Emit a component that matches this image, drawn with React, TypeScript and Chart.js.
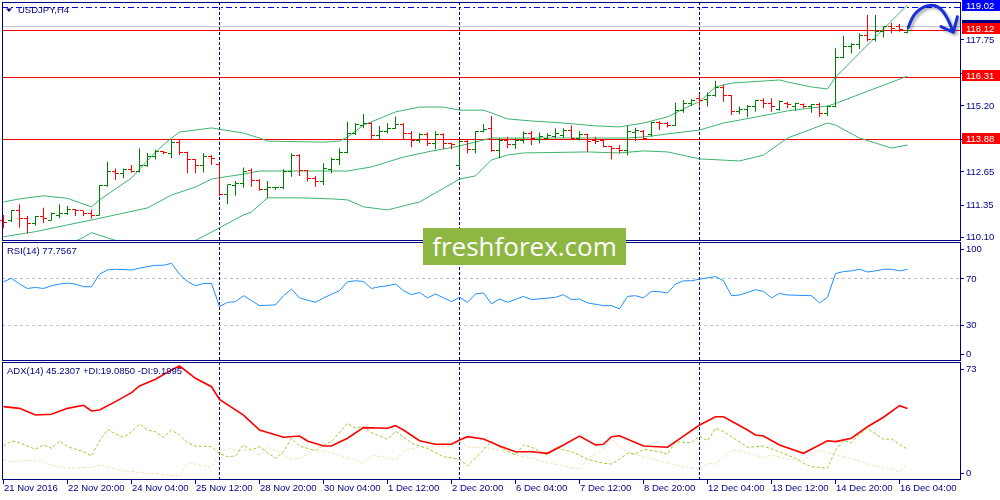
import { useEffect, useRef } from "react";
import { Chart, registerables } from "chart.js";

Chart.register(...registerables);

// ---------------- data ----------------
const SYMBOL_TITLE = "USDJPY,H4";
const RSI_TITLE = "RSI(14) 77.7567";
const ADX_TITLE = "ADX(14) 45.2307 +DI:19.0850 -DI:9.1995";
const WATERMARK = "freshforex.com";

const TIME_LABELS = [
  "21 Nov 2016", "22 Nov 20:00", "24 Nov 04:00", "25 Nov 12:00", "28 Nov 20:00",
  "30 Nov 04:00", "1 Dec 12:00", "2 Dec 20:00", "6 Dec 04:00", "7 Dec 12:00",
  "8 Dec 20:00", "12 Dec 04:00", "13 Dec 12:00", "14 Dec 20:00", "16 Dec 04:00",
];
const TIME_LABEL_BARS = [0, 8, 16, 24, 32, 40, 48, 56, 64, 72, 80, 88, 96, 104, 112];
const WEEK_START_BARS = [27, 57, 87];

const OPEN = [
  110.77, 110.77, 111.13, 110.84, 110.62, 110.90, 110.77, 110.96, 111.03, 111.16,
  111.12, 111.03, 110.96, 112.09, 112.65, 112.58, 112.71, 112.65, 112.88, 113.25,
  113.42, 113.36, 113.77, 113.39, 113.10, 112.90, 113.23, 112.93, 111.74, 112.09,
  112.19, 112.68, 112.32, 111.96, 112.02, 112.04, 112.65, 113.29, 112.68, 112.39,
  112.28, 112.74, 113.10, 113.38, 114.13, 114.42, 114.52, 114.03, 114.20, 114.31,
  114.49, 114.13, 113.85, 114.09, 113.74, 114.09, 113.72, 112.90, 113.81, 113.49,
  114.20, 114.33, 113.45, 113.87, 113.70, 113.87, 114.13, 113.91, 113.94, 114.00,
  114.03, 114.26, 113.94, 114.07, 113.85, 113.85, 113.61, 113.55, 113.45, 114.16,
  114.22, 114.07, 114.56, 114.52, 114.45, 115.00, 115.29, 115.49, 115.46, 115.59,
  115.92, 115.58, 114.97, 115.04, 115.17, 115.39, 115.29, 115.06, 115.29, 115.17,
  115.26, 115.17, 115.23, 114.91, 115.17, 117.08, 117.49, 117.56, 117.94, 117.75,
  118.07, 118.29, 118.27, 118.05,
];
const HIGH = [
  110.96, 111.16, 111.38, 110.93, 110.93, 111.25, 111.06, 111.38, 111.31, 111.20,
  111.13, 111.18, 112.13, 113.03, 112.77, 112.77, 112.90, 113.55, 113.36, 113.49,
  113.45, 113.90, 113.87, 113.42, 113.14, 113.36, 113.29, 112.97, 112.15, 112.28,
  112.81, 112.77, 112.35, 112.28, 112.06, 112.74, 113.36, 113.32, 112.71, 112.48,
  112.97, 113.19, 113.55, 114.58, 114.52, 114.88, 114.55, 114.42, 114.52, 114.78,
  114.52, 114.22, 114.13, 114.16, 114.20, 114.13, 113.77, 113.90, 113.87, 114.22,
  114.49, 114.80, 113.94, 114.00, 113.94, 114.20, 114.22, 114.16, 114.13, 114.33,
  114.33, 114.43, 114.20, 114.11, 114.00, 113.87, 113.64, 113.68, 114.42, 114.35,
  114.26, 114.58, 114.61, 114.58, 115.32, 115.42, 115.45, 115.64, 115.71, 116.17,
  116.01, 115.62, 115.17, 115.23, 115.42, 115.49, 115.49, 115.40, 115.36, 115.32,
  115.29, 115.27, 115.32, 115.20, 117.43, 117.91, 117.62, 118.01, 118.72, 118.72,
  118.29, 118.42, 118.37, 118.27,
];
const LOW = [
  110.45, 110.69, 110.47, 110.25, 110.56, 110.64, 110.75, 110.84, 110.96, 110.93,
  110.93, 110.82, 110.94, 112.06, 112.32, 112.39, 112.61, 112.61, 112.84, 113.12,
  113.33, 113.16, 113.29, 112.58, 112.58, 112.61, 112.90, 111.70, 111.38, 111.71,
  112.02, 112.06, 111.90, 111.61, 111.93, 111.96, 112.45, 112.48, 112.26, 112.06,
  112.13, 112.58, 112.90, 113.36, 114.07, 114.33, 113.90, 113.87, 114.13, 114.30,
  113.90, 113.59, 113.77, 113.64, 113.51, 113.52, 113.51, 112.84, 113.36, 113.36,
  114.16, 113.42, 113.16, 113.55, 113.52, 113.74, 113.68, 113.74, 113.87, 113.94,
  113.96, 113.87, 113.85, 113.42, 113.72, 113.59, 113.12, 113.36, 113.27, 113.81,
  113.87, 114.00, 114.26, 114.36, 114.42, 114.93, 115.19, 115.17, 115.17, 115.55,
  115.36, 114.84, 114.87, 114.75, 114.97, 115.10, 114.97, 115.01, 115.10, 115.01,
  115.10, 114.93, 114.78, 114.80, 115.14, 117.04, 117.23, 117.40, 117.69, 117.69,
  117.85, 118.01, 118.07, 118.01,
];
const CLOSE = [
  110.69, 111.13, 110.84, 110.62, 110.90, 110.84, 111.03, 111.03, 111.16, 111.12,
  111.03, 110.96, 112.09, 112.65, 112.58, 112.71, 112.65, 112.88, 113.25, 113.42,
  113.38, 113.77, 113.39, 113.10, 112.90, 113.23, 113.14, 111.74, 112.13, 112.19,
  112.65, 112.32, 111.96, 112.04, 112.05, 112.67, 113.29, 112.68, 112.39, 112.28,
  112.77, 113.10, 113.38, 114.13, 114.49, 114.52, 114.03, 114.20, 114.33, 114.49,
  114.13, 113.85, 114.09, 113.74, 114.09, 113.72, 113.70, 113.80, 113.49, 114.20,
  114.29, 113.45, 113.87, 113.68, 113.87, 114.13, 113.94, 114.00, 114.04, 114.13,
  114.26, 113.94, 114.07, 113.81, 113.81, 113.61, 113.55, 113.45, 114.20, 114.26,
  113.94, 114.56, 114.52, 114.45, 115.00, 115.29, 115.39, 115.42, 115.59, 115.92,
  115.58, 114.97, 115.06, 115.17, 115.39, 115.29, 115.17, 115.36, 115.23, 115.27,
  115.17, 115.23, 114.91, 115.17, 117.08, 117.49, 117.56, 117.94, 117.78, 118.07,
  118.27, 118.20, 118.16, 118.12,
];

// Bollinger Bands (bar index, price) read at the line's vertices
const BB_UPPER = [
  [0, 111.47], [2, 111.59], [5, 111.71], [8, 111.61], [11, 111.28], [12, 111.55],
  [16, 112.40], [19, 113.41], [21, 113.95], [22, 114.18], [26, 114.34], [30, 114.14],
  [32, 113.95], [33, 113.83], [40, 113.79], [42, 113.83], [43, 113.99], [45, 114.45],
  [49, 114.96], [52, 115.15], [55, 115.15], [57, 115.03], [60, 115.03], [61, 114.92],
  [63, 114.69], [66, 114.61], [70, 114.53], [74, 114.42], [77, 114.38], [80, 114.53],
  [83, 114.77], [86, 115.23], [87, 115.35], [89, 115.93], [91, 116.08], [97, 116.20],
  [98, 116.12], [101, 115.93], [103, 115.85], [104, 116.31], [113, 119.11],
];
const BB_MIDDLE = [
  [0, 110.12], [4, 110.32], [8, 110.58], [11, 110.77], [14, 110.97], [18, 111.24],
  [21, 111.74], [24, 112.05], [26, 112.36], [30, 112.55], [32, 112.67], [43, 112.67],
  [46, 112.83], [50, 113.21], [53, 113.41], [57, 113.64], [61, 113.95], [71, 113.95],
  [78, 113.95], [80, 113.99], [87, 114.26], [90, 114.53], [94, 114.76], [98, 115.00],
  [103, 115.19], [104, 115.29], [113, 116.35],
];
const BB_LOWER = [
  [0, 109.40], [8, 109.80], [10, 110.10], [11, 110.28], [14, 109.98], [18, 109.50],
  [24, 109.98], [26, 110.30], [30, 110.97], [31, 111.08], [33, 111.63], [37, 111.63],
  [41, 111.59], [43, 111.55], [45, 111.28], [48, 111.16], [52, 111.47], [54, 111.82],
  [57, 112.36], [59, 112.48], [61, 113.10], [63, 113.29], [65, 113.37], [73, 113.41],
  [77, 113.37], [80, 113.45], [83, 113.41], [87, 113.14], [92, 113.06], [95, 113.29],
  [98, 113.95], [100, 114.18], [103, 114.53], [104, 114.45], [107, 113.95], [111, 113.56],
  [113, 113.68],
];

const RSI = [
  [0, 67.1], [1, 70.2], [2, 65.2], [3, 61.4], [4, 62.3], [5, 61.4], [6, 63.7], [7, 65.2],
  [8, 66.0], [9, 65.2], [10, 62.9], [11, 62.9], [12, 73.7], [13, 77.3], [14, 77.9],
  [16, 77.3], [17, 78.8], [18, 80.1], [19, 81.3], [20, 81.3], [21, 83.0], [22, 73.7],
  [23, 67.4], [24, 63.7], [25, 65.7], [26, 65.7], [27, 45.9], [28, 49.5], [29, 50.1],
  [30, 55.2], [31, 51.0], [32, 46.7], [34, 47.3], [35, 55.2], [36, 60.9], [37, 53.3],
  [39, 49.5], [40, 53.3], [42, 59.5], [43, 67.1], [44, 68.0], [45, 67.4], [46, 61.4],
  [47, 62.9], [48, 63.7], [49, 65.2], [50, 59.5], [51, 56.1], [52, 58.0], [53, 53.3],
  [54, 56.7], [56, 50.1], [57, 53.8], [58, 49.5], [59, 56.7], [60, 57.5], [61, 48.2],
  [62, 52.4], [63, 49.5], [65, 54.6], [66, 51.8], [69, 53.8], [70, 56.1], [71, 51.8],
  [72, 52.4], [73, 49.0], [75, 46.7], [76, 46.7], [77, 43.9], [78, 54.6], [79, 55.2],
  [80, 53.3], [81, 58.9], [82, 58.6], [83, 57.5], [84, 65.2], [85, 68.0], [86, 68.0],
  [87, 69.4], [89, 71.6], [90, 68.0], [91, 55.2], [92, 55.8], [94, 60.3], [95, 58.9],
  [96, 53.3], [97, 57.2], [98, 55.8], [101, 55.2], [102, 49.0], [103, 53.8], [104, 74.2],
  [105, 75.9], [106, 76.5], [107, 77.9], [108, 75.6], [109, 76.5], [110, 77.9],
  [111, 77.9], [112, 76.5], [113, 77.76],
];

const ADX = [
  [0, 46.5], [2, 45.4], [4, 41.1], [6, 41.6], [8, 45.4], [10, 47.4], [11, 43.7],
  [12, 44.3], [14, 49.7], [16, 55.5], [17, 59.8], [19, 64.1], [21, 70.1], [22, 72.6],
  [24, 64.7], [26, 59.3], [27, 51.2], [30, 41.1], [32, 31.5], [35, 26.8], [37, 27.6],
  [38, 24.4], [40, 21.2], [41, 21.2], [43, 26.2], [45, 33.0], [48, 32.6], [49, 34.3],
  [50, 31.5], [52, 24.6], [54, 22.3], [56, 22.3], [57, 25.1], [58, 27.2], [60, 25.7],
  [62, 21.2], [64, 17.5], [66, 17.5], [68, 16.5], [70, 21.9], [72, 27.6], [74, 21.9],
  [75, 22.3], [76, 27.2], [77, 27.8], [80, 21.2], [83, 20.4], [85, 27.6], [87, 34.7],
  [88, 37.3], [89, 40.0], [90, 40.0], [93, 31.5], [94, 28.3], [95, 27.6], [97, 21.9],
  [100, 16.5], [103, 24.6], [104, 24.0], [106, 26.2], [108, 33.6], [110, 39.7],
  [112, 47.1], [113, 45.23],
];
const PLUS_DI = [
  [0, 21.2], [1, 24.4], [2, 23.3], [4, 19.1], [5, 21.9], [6, 19.7], [7, 24.4], [8, 20.8],
  [10, 17.5], [11, 14.8], [12, 24.4], [13, 31.9], [14, 28.9], [15, 26.8], [16, 30.4],
  [17, 35.2], [18, 31.5], [19, 30.4], [20, 26.8], [21, 31.5], [22, 28.3], [23, 23.3],
  [24, 21.2], [26, 20.8], [27, 16.5], [28, 14.3], [29, 14.8], [30, 21.9], [31, 18.6],
  [32, 20.8], [34, 13.3], [35, 17.5], [36, 26.2], [37, 21.2], [39, 18.2], [40, 21.9],
  [41, 24.0], [43, 35.8], [44, 32.6], [45, 33.6], [46, 29.8], [48, 25.5], [49, 30.8],
  [50, 27.2], [51, 22.9], [53, 19.7], [55, 14.3], [57, 12.7], [58, 8.4], [60, 18.6],
  [61, 24.4], [62, 20.5], [64, 15.4], [65, 21.9], [66, 20.4], [68, 15.4], [69, 20.1],
  [71, 17.5], [72, 15.4], [73, 12.7], [75, 10.1], [76, 9.6], [77, 12.7], [78, 16.5],
  [79, 16.1], [80, 19.1], [82, 17.5], [83, 15.9], [84, 24.0], [86, 23.3], [87, 27.6],
  [88, 24.6], [89, 32.6], [90, 30.4], [91, 27.2], [93, 20.4], [94, 20.8], [95, 21.2],
  [97, 17.5], [99, 13.3], [100, 10.1], [101, 7.9], [103, 6.9], [104, 18.6], [105, 24.6],
  [106, 23.3], [107, 28.9], [108, 32.6], [110, 25.5], [111, 25.7], [113, 19.09],
];
const MINUS_DI = [
  [0, 12.2], [1, 11.1], [4, 12.2], [6, 9.0], [8, 6.9], [11, 7.5], [12, 9.0], [15, 5.3],
  [18, 3.7], [22, 1.9], [23, 10.5], [26, 7.5], [27, 16.5], [28, 19.7], [29, 18.6],
  [31, 18.6], [32, 15.0], [33, 20.4], [35, 15.9], [36, 12.7], [37, 13.3], [39, 19.1],
  [42, 15.4], [45, 10.1], [46, 15.4], [48, 13.7], [49, 11.8], [50, 18.2], [52, 20.4],
  [56, 21.2], [57, 24.4], [58, 20.4], [60, 20.4], [62, 18.6], [64, 15.4], [66, 13.3],
  [68, 10.5], [70, 8.4], [72, 6.2], [73, 12.7], [75, 19.1], [76, 25.5], [77, 20.4],
  [79, 15.4], [80, 14.3], [82, 11.8], [84, 9.0], [87, 6.2], [88, 10.1], [89, 9.6],
  [91, 18.6], [92, 18.2], [95, 13.9], [96, 15.4], [98, 12.7], [100, 12.2], [102, 18.6],
  [104, 15.4], [106, 13.3], [108, 9.6], [110, 7.5], [112, 4.7], [113, 9.2],
];

const PRICE_TICKS = [117.75, 116.45, 115.2, 113.9, 112.65, 111.35, 110.1];
const RED_LEVELS = [118.12, 116.31, 113.88];
const BLUE_LEVEL = 119.02;
const ASK_PRICE = 118.26;
const RSI_TICKS = [100, 70, 30, 0];
const RSI_LEVELS = [70, 30];
const ADX_TICKS = [73, 0];

// hand-drawn arrow annotation, in (bar index, price)
const ARROW_PATH = [
  [113.1, 118.24], [113.53, 118.59], [114.15, 118.85], [114.98, 119.04], [116.03, 119.12],
  [116.85, 119.04], [117.48, 118.85], [118.1, 118.53], [118.53, 118.2], [118.73, 118.05],
];
const ARROW_WINGS = [[117.19, 118.27], [119.23, 118.65]];

// ---------------- view ranges & styles ----------------
const X_MIN = -0.1875;
const X_MAX = 119.6875;
const PRICE_MIN = 109.9562;
const PRICE_MAX = 119.2234;
const RSI_MIN = -0.858;
const RSI_MAX = 101.29;
const ADX_MIN = -0.643;
const ADX_MAX = 75.19;

const NAVY = "#000080";
const UP = "#008000";
const DOWN = "#FF0000";
const BAND = "#3CB371";
const LEVEL_RED = "#FF0000";
const LEVEL_BLUE = "#0000FF";
const ASK_GRAY = "#C8C8C8";
const RSI_BLUE = "#1E90FF";
const SILVER = "#C0C0C0";
const ADX_RED = "#FF0000";
const PDI_GREEN = "#9ACD32";
const MDI_TAN = "#F5DEB3";
const FONT = '9.5px "Liberation Sans", Arial, sans-serif';
const PAD = { left: 2, right: 39 };

function crisp(v: number) {
  return Math.round(v - 0.5) + 0.5;
}
function hLine(ctx: any, left: number, right: number, py: number, color: string, dash: number[], width = 1) {
  ctx.save();
  ctx.strokeStyle = color;
  ctx.lineWidth = width;
  ctx.setLineDash(dash);
  ctx.beginPath();
  const yy = crisp(py);
  ctx.moveTo(left, yy);
  ctx.lineTo(right, yy);
  ctx.stroke();
  ctx.restore();
}
function vLine(ctx: any, px: number, top: number, bottom: number, color: string, dash: number[]) {
  ctx.save();
  ctx.strokeStyle = color;
  ctx.lineWidth = 1;
  ctx.setLineDash(dash);
  ctx.beginPath();
  const xx = Math.floor(px) + 0.5;
  ctx.moveTo(xx, top);
  ctx.lineTo(xx, bottom);
  ctx.stroke();
  ctx.restore();
}
function frame(chart: any) {
  const { ctx, chartArea: a } = chart;
  ctx.save();
  ctx.strokeStyle = NAVY;
  ctx.lineWidth = 1;
  ctx.setLineDash([]);
  ctx.strokeRect(a.left + 0.5, a.top + 0.5, a.right - a.left - 1, a.bottom - a.top - 1);
  ctx.restore();
}
function axisLabel(ctx: any, a: any, py: number, text: string, color = NAVY, bg?: string) {
  ctx.save();
  let ty = py + 0.5;
  if (bg) {
    const top = Math.round(py) - 7;
    ctx.fillStyle = bg;
    ctx.fillRect(a.right + 1, top, 38, 11);
    ty = top + 6;
  } else {
    ctx.fillStyle = NAVY;
    ctx.fillRect(a.right, Math.round(py - 0.5), 3, 1);
  }
  ctx.fillStyle = color;
  ctx.font = FONT;
  ctx.textBaseline = "middle";
  ctx.textAlign = "left";
  ctx.fillText(text, a.right + 5, ty);
  ctx.restore();
}
function title(ctx: any, text: string, x: number, y: number) {
  ctx.save();
  ctx.fillStyle = NAVY;
  ctx.font = FONT;
  ctx.textBaseline = "middle";
  ctx.textAlign = "left";
  ctx.fillText(text, x, y);
  ctx.restore();
}
function separators(chart: any) {
  const { ctx, chartArea: a, scales } = chart;
  WEEK_START_BARS.forEach((b) => vLine(ctx, scales.x.getPixelForValue(b), a.top, a.bottom, NAVY, [3, 2]));
}

const pts = (arr: number[][]) => arr.map(([x, y]) => ({ x, y }));
const lineDs = (data: number[][], color: string, width = 1, dash: number[] = []) => ({
  type: "line" as const,
  data: pts(data),
  borderColor: color,
  borderWidth: width,
  borderDash: dash,
  pointRadius: 0,
  tension: 0,
  fill: false,
});
const baseOptions = (yMin: number, yMax: number, padTop: number, padBottom: number) => ({
  responsive: false,
  maintainAspectRatio: false,
  animation: false as const,
  devicePixelRatio: 1,
  events: [] as any[],
  layout: { padding: { left: PAD.left, right: PAD.right, top: padTop, bottom: padBottom } },
  plugins: { legend: { display: false }, tooltip: { enabled: false }, title: { display: false } },
  scales: {
    x: { type: "linear" as const, min: X_MIN, max: X_MAX, display: false, offset: false },
    y: { type: "linear" as const, min: yMin, max: yMax, display: false },
  },
});

const mainPlugin = {
  id: "mainDecor",
  beforeDatasetsDraw(chart: any) {
    const { ctx, chartArea: a, scales } = chart;
    const y = scales.y;
    hLine(ctx, a.left, a.right, y.getPixelForValue(ASK_PRICE), ASK_GRAY, []);
    RED_LEVELS.forEach((v) => hLine(ctx, a.left, a.right, y.getPixelForValue(v), LEVEL_RED, []));
    hLine(ctx, a.left, a.right, y.getPixelForValue(BLUE_LEVEL), LEVEL_BLUE, [6, 3, 2, 3]);
    separators(chart);
  },
  afterDatasetsDraw(chart: any) {
    const { ctx, chartArea: a, scales } = chart;
    const x = scales.x;
    const y = scales.y;
    ctx.save();
    // open / close ticks
    for (let i = 0; i < OPEN.length; i++) {
      const col = Math.floor(x.getPixelForValue(i));
      ctx.fillStyle = CLOSE[i] >= OPEN[i] ? UP : DOWN;
      ctx.fillRect(col - 3, Math.round(y.getPixelForValue(OPEN[i]) - 0.5), 3, 1);
      ctx.fillRect(col + 1, Math.round(y.getPixelForValue(CLOSE[i]) - 0.5), 3, 1);
    }
    ctx.restore();
    frame(chart);
    // price axis
    PRICE_TICKS.forEach((v) => axisLabel(ctx, a, y.getPixelForValue(v), v.toFixed(2)));
    axisLabel(ctx, a, y.getPixelForValue(ASK_PRICE), ASK_PRICE.toFixed(2), "#FFFFFF", NAVY);
    RED_LEVELS.forEach((v) => axisLabel(ctx, a, y.getPixelForValue(v), v.toFixed(2), "#FFFFFF", LEVEL_RED));
    axisLabel(ctx, a, y.getPixelForValue(BLUE_LEVEL), BLUE_LEVEL.toFixed(2), "#FFFFFF", LEVEL_BLUE);
    // arrow annotation
    const p = ARROW_PATH.map(([bx, pr]) => [x.getPixelForValue(bx), y.getPixelForValue(pr)]);
    const tip = p[p.length - 1];
    ctx.save();
    ctx.strokeStyle = "#1830D8";
    ctx.lineWidth = 3;
    ctx.lineCap = "round";
    ctx.lineJoin = "round";
    ctx.shadowColor = "rgba(0,0,0,0.35)";
    ctx.shadowBlur = 3;
    ctx.shadowOffsetX = 2;
    ctx.shadowOffsetY = 2;
    ctx.beginPath();
    ctx.moveTo(p[0][0], p[0][1]);
    for (let i = 1; i < p.length - 1; i++) {
      ctx.quadraticCurveTo(p[i][0], p[i][1], (p[i][0] + p[i + 1][0]) / 2, (p[i][1] + p[i + 1][1]) / 2);
    }
    ctx.lineTo(tip[0], tip[1]);
    ARROW_WINGS.forEach(([bx, pr]) => {
      ctx.moveTo(tip[0], tip[1]);
      ctx.lineTo(x.getPixelForValue(bx), y.getPixelForValue(pr));
    });
    ctx.stroke();
    ctx.restore();
    // title
    ctx.save();
    ctx.fillStyle = NAVY;
    ctx.beginPath();
    ctx.moveTo(a.left + 4, a.top + 6.5);
    ctx.lineTo(a.left + 10, a.top + 6.5);
    ctx.lineTo(a.left + 7, a.top + 10);
    ctx.closePath();
    ctx.fill();
    ctx.restore();
    title(ctx, SYMBOL_TITLE, a.left + 16, a.top + 8.7);
  },
};

function clampLabel(py: number, a: any) {
  return Math.min(Math.max(py, a.top + 7), a.bottom - 7);
}

const rsiPlugin = {
  id: "rsiDecor",
  beforeDatasetsDraw(chart: any) {
    const { ctx, chartArea: a, scales } = chart;
    RSI_LEVELS.forEach((v) => hLine(ctx, a.left, a.right, scales.y.getPixelForValue(v), SILVER, [3, 3]));
    separators(chart);
  },
  afterDatasetsDraw(chart: any) {
    const { ctx, chartArea: a, scales } = chart;
    frame(chart);
    RSI_TICKS.forEach((v) => axisLabel(ctx, a, clampLabel(scales.y.getPixelForValue(v), a), String(v)));
    title(ctx, RSI_TITLE, a.left + 5, a.top + 9);
  },
};

const adxPlugin = {
  id: "adxDecor",
  beforeDatasetsDraw(chart: any) {
    separators(chart);
  },
  afterDatasetsDraw(chart: any) {
    const { ctx, chartArea: a, scales } = chart;
    frame(chart);
    ADX_TICKS.forEach((v) => axisLabel(ctx, a, clampLabel(scales.y.getPixelForValue(v), a), String(v)));
    title(ctx, ADX_TITLE, a.left + 5, a.top + 9.5);
    ctx.save();
    ctx.fillStyle = NAVY;
    ctx.font = FONT;
    ctx.textAlign = "left";
    ctx.textBaseline = "middle";
    TIME_LABEL_BARS.forEach((b, k) => {
      const px = Math.floor(scales.x.getPixelForValue(b));
      ctx.fillRect(px, a.bottom, 1, 4);
      ctx.fillText(TIME_LABELS[k], px + 1, a.bottom + 8);
    });
    ctx.restore();
  },
};

export default function App() {
  const mainRef = useRef<HTMLCanvasElement>(null);
  const rsiRef = useRef<HTMLCanvasElement>(null);
  const adxRef = useRef<HTMLCanvasElement>(null);

  useEffect(() => {
    const charts: Chart[] = [];
    const barColors = CLOSE.map((c, i) => (c >= OPEN[i] ? UP : DOWN));

    charts.push(
      new Chart(mainRef.current as HTMLCanvasElement, {
        type: "line",
        data: {
          datasets: [
            {
              type: "bar",
              data: HIGH.map((h, i) => ({ x: i, y: [LOW[i], h] })) as any,
              backgroundColor: barColors,
              borderWidth: 0,
              barThickness: 1,
              inflateAmount: 0,
            } as any,
            lineDs(BB_UPPER, BAND),
            lineDs(BB_MIDDLE, BAND),
            lineDs(BB_LOWER, BAND),
          ],
        },
        options: baseOptions(PRICE_MIN, PRICE_MAX, 2, 0) as any,
        plugins: [mainPlugin],
      })
    );

    charts.push(
      new Chart(rsiRef.current as HTMLCanvasElement, {
        type: "line",
        data: { datasets: [lineDs(RSI, RSI_BLUE)] as any },
        options: baseOptions(RSI_MIN, RSI_MAX, 0, 0) as any,
        plugins: [rsiPlugin],
      })
    );

    charts.push(
      new Chart(adxRef.current as HTMLCanvasElement, {
        type: "line",
        data: {
          datasets: [
            lineDs(ADX, ADX_RED, 1.6),
            lineDs(PLUS_DI, PDI_GREEN, 1, [3, 2]),
            lineDs(MINUS_DI, MDI_TAN, 1, [3, 2]),
          ] as any,
        },
        options: baseOptions(ADX_MIN, ADX_MAX, 0, 20) as any,
        plugins: [adxPlugin],
      })
    );

    return () => charts.forEach((c) => c.destroy());
  }, []);

  const abs = (top: number, height: number) => ({
    position: "absolute" as const,
    left: 0,
    top,
    width: 1000,
    height,
  });

  return (
    <div
      style={{
        position: "fixed",
        left: 0,
        top: 0,
        width: 1000,
        height: 500,
        background: "#FFFFFF",
        overflow: "hidden",
      }}
    >
      <canvas ref={mainRef} width={1000} height={241} style={abs(0, 241)} />
      <canvas ref={rsiRef} width={1000} height={119} style={abs(242, 119)} />
      <canvas ref={adxRef} width={1000} height={138} style={abs(362, 138)} />
      <div
        style={{
          position: "absolute",
          left: 423,
          top: 228,
          width: 203,
          height: 37,
          background: "#8DB643",
          color: "#FFFFFF",
          font: '26px "Open Sans", sans-serif',
          lineHeight: "37px",
          textAlign: "center",
          whiteSpace: "nowrap",
        }}
      >
        {WATERMARK}
      </div>
    </div>
  );
}
